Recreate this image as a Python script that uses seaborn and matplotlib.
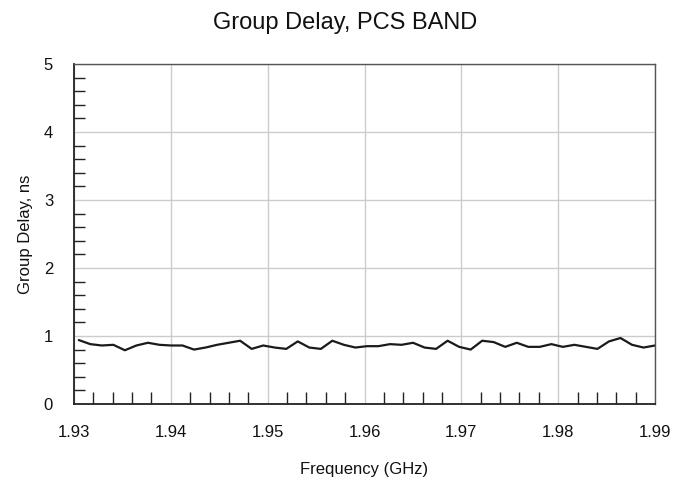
import numpy as np
import pandas as pd
import matplotlib
matplotlib.use("Agg")
import matplotlib.pyplot as plt
from matplotlib.ticker import MultipleLocator
import seaborn as sns

# Data
freq_ghz = [1.93050, 1.93169, 1.93288, 1.93407, 1.93526, 1.93645, 1.93764, 1.93883,
            1.94002, 1.94121, 1.94240, 1.94359, 1.94478, 1.94597, 1.94716, 1.94835,
            1.94954, 1.95073, 1.95192, 1.95311, 1.95430, 1.95549, 1.95668, 1.95787,
            1.95906, 1.96025, 1.96144, 1.96263, 1.96382, 1.96501, 1.96620, 1.96739,
            1.96858, 1.96977, 1.97096, 1.97215, 1.97334, 1.97453, 1.97572, 1.97691,
            1.97810, 1.97929, 1.98048, 1.98167, 1.98286, 1.98405, 1.98524, 1.98643,
            1.98762, 1.98881, 1.99000]
group_delay_ns = [0.94, 0.88, 0.86, 0.87, 0.79, 0.86, 0.90, 0.87, 0.86, 0.86,
                  0.80, 0.83, 0.87, 0.90, 0.93, 0.81, 0.86, 0.83, 0.81, 0.92,
                  0.83, 0.81, 0.93, 0.87, 0.83, 0.85, 0.85, 0.88, 0.87, 0.90,
                  0.83, 0.81, 0.93, 0.84, 0.80, 0.93, 0.91, 0.84, 0.90, 0.84,
                  0.84, 0.88, 0.84, 0.87, 0.84, 0.81, 0.92, 0.97, 0.87, 0.83,
                  0.86]
x_ticks = [1.93, 1.94, 1.95, 1.96, 1.97, 1.98, 1.99]
x_tick_labels = ["1.93", "1.94", "1.95", "1.96", "1.97", "1.98", "1.99"]
y_ticks = [0, 1, 2, 3, 4, 5]

df = pd.DataFrame({"Frequency (GHz)": freq_ghz, "Group Delay, ns": group_delay_ns})

sns.set_style("white")
plt.rcParams['font.family'] = ['Liberation Sans', 'DejaVu Sans']

fig = plt.figure(figsize=(6.91, 4.83), dpi=100)
ax = fig.add_axes([0.107, 0.1636, 0.841, 0.704])

sns.lineplot(data=df, x="Frequency (GHz)", y="Group Delay, ns", ax=ax,
             color="#1a1a1a", linewidth=1.6, estimator=None)

ax.set_xlim(1.93, 1.99)
ax.set_ylim(0, 5)
ax.set_xticks(x_ticks)
ax.set_xticklabels(x_tick_labels)
ax.set_yticks(y_ticks)
ax.xaxis.set_minor_locator(MultipleLocator(0.002))
ax.yaxis.set_minor_locator(MultipleLocator(0.2))

ax.grid(True, which="major", color="#cccccc", linewidth=1.0)
ax.tick_params(axis="both", which="major", length=0, labelsize=12,
               labelcolor="#111111")
ax.tick_params(axis="x", which="major", pad=15)
ax.tick_params(axis="y", which="major", pad=15)
ax.tick_params(axis="x", which="minor", direction="in", length=9, width=1,
               color="#222222", bottom=True)
ax.tick_params(axis="y", which="minor", direction="in", length=8, width=1,
               color="#222222", left=True)

for side in ["left", "bottom"]:
    ax.spines[side].set_color("#222222")
    ax.spines[side].set_linewidth(1.3)
for side in ["top", "right"]:
    ax.spines[side].set_color("#555555")
    ax.spines[side].set_linewidth(1.0)
    ax.spines[side].set_visible(True)

ax.set_xlabel("Frequency (GHz)", fontsize=12, labelpad=16, color="#111111")
ax.set_ylabel("Group Delay, ns", fontsize=12, labelpad=8, color="#111111")
fig.suptitle("Group Delay, PCS BAND", fontsize=17, y=0.975, color="#111111")

fig.savefig("out.png", dpi=100)
